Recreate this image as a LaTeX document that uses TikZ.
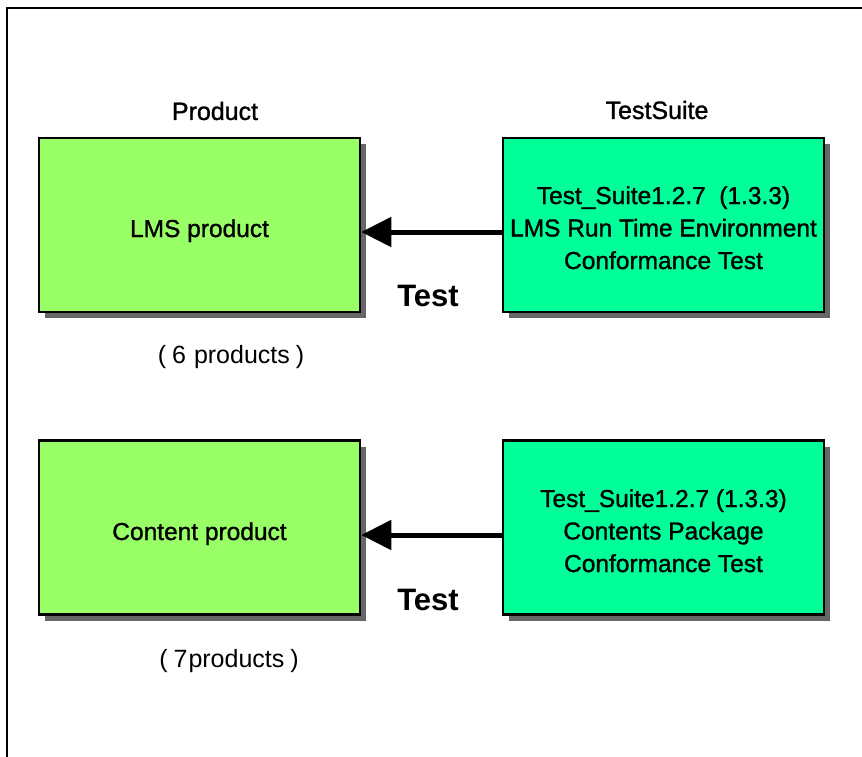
\documentclass[tikz,border=0pt]{standalone}
\usepackage{fontspec}
\setmainfont{Liberation Sans}
\newfontfamily\heavyfont[FakeBold=1.2]{Liberation Sans}
\usetikzlibrary{shadows,arrows.meta}
\definecolor{prodgreen}{RGB}{153,255,102}
\definecolor{suitegreen}{RGB}{0,255,153}
\definecolor{shadowgray}{RGB}{102,102,102}
\tikzset{
  boxbase/.style={draw=black, line width=2.5pt, minimum width=321pt, minimum height=174pt,
    inner sep=0pt,
    drop shadow={shadow xshift=6pt, shadow yshift=-6pt, fill=shadowgray, opacity=1}},
  prodbox/.style={boxbase, fill=prodgreen},
  suitebox/.style={boxbase, fill=suitegreen},
  boxtext/.style={align=center, inner sep=0pt, font=\heavyfont\fontsize{24.5}{32.5}\selectfont},
  header/.style={font=\heavyfont\fontsize{25}{30}\selectfont},
  countlabel/.style={font=\fontsize{25}{30}\selectfont},
  testlabel/.style={font=\fontsize{31}{36}\selectfont\bfseries},
  testarrow/.style={line width=5pt, -{Triangle[length=30pt,width=29pt]}},
}
\begin{document}
\begin{tikzpicture}[x=1pt,y=-1pt]
\useasboundingbox (0,0) rectangle (862,756);
\fill[white] (0,0) rectangle (862,756);
\draw[line width=2pt] (7,770) -- (7,8) -- (875,8);

\node[prodbox] (lms) at (199.5,225) {};
\node[suitebox] (rte) at (663.5,225) {};
\node[prodbox] (cp) at (199.5,527.5) {};
\node[suitebox] (pkg) at (663.5,527.5) {};

\node[boxtext, anchor=base] (lmst) at (199.5,237) {LMS product};
\node[boxtext, anchor=base] (rtet) at (663.5,269) {Test\_Suite1.2.7 \ (1.3.3)\\LMS Run Time Environment\\Conformance Test};
\node[boxtext, anchor=base] (cpt) at (199.5,540) {Content product};
\node[boxtext, anchor=base] (pkgt) at (663.5,572) {Test\_Suite1.2.7 (1.3.3)\\Contents Package\\Conformance Test};

\node[header] (hprod) at (215,111) {Product};
\node[header] (hsuite) at (657,110) {TestSuite};

\node[testlabel] (t1) at (428,296) {Test};
\node[testlabel] (t2) at (428,600) {Test};

\node[countlabel] (c1) at (231,357) {(\hspace{6pt}6\hspace{8pt}products\hspace{6pt})};
\node[countlabel] (c2) at (229,661) {(\hspace{6pt}7\hspace{1pt}products\hspace{6pt})};

\coordinate (a1) at (0,232);
\coordinate (a2) at (0,535);
\draw[testarrow] (rte.west |- a1) -- (lms.east |- a1);
\draw[testarrow] (pkg.west |- a2) -- (cp.east |- a2);
\end{tikzpicture}
\end{document}
